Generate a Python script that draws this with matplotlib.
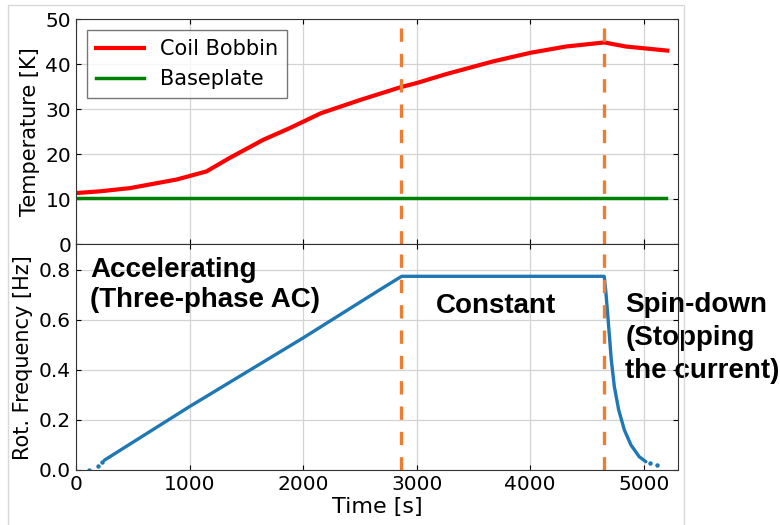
import matplotlib.pyplot as plt
import numpy as np
from matplotlib.patches import Rectangle

# temperature data (time [s], temperature [K])
coil_t = [0, 215, 475, 885, 1149, 1354, 1648, 1882, 2156, 2509, 2862, 3000, 3263, 3673, 4000, 4316, 4652, 4842, 5207]
coil_T = [11.4, 11.8, 12.5, 14.4, 16.2, 19.2, 23.2, 25.8, 29.1, 32.1, 34.9, 35.8, 37.8, 40.6, 42.5, 43.9, 44.8, 43.9, 43.0]
base_t = [0, 5200]
base_T = [10.3, 10.3]

# rotation frequency (dense band) and sparse dots
freq_t = [250, 1000, 2000, 2678, 2868, 4652, 4667, 4691, 4714, 4741, 4779, 4829, 4887, 4960, 5019]
freq_f = [0.039, 0.253, 0.527, 0.720, 0.773, 0.773, 0.707, 0.573, 0.440, 0.333, 0.240, 0.160, 0.100, 0.053, 0.033]
dots_t = [118, 191, 230, 5058, 5121]
dots_f = [0.0, 0.015, 0.030, 0.027, 0.020]

phase_edges = [2865, 4652]

fig = plt.figure(figsize=(7.8, 5.25), dpi=100)
gs = fig.add_gridspec(2, 1, left=0.0974, right=0.869, top=0.9638, bottom=0.1048, hspace=0)
ax1 = fig.add_subplot(gs[0])
ax2 = fig.add_subplot(gs[1], sharex=ax1)

fig.add_artist(Rectangle((8 / 780, -0.1), 676 / 780, 1.1 - 5 / 525, transform=fig.transFigure,
                         fill=False, edgecolor='#d9d9d9', lw=1))

ax1.plot(coil_t, coil_T, color='red', lw=3, label='Coil Bobbin')
ax1.plot(base_t, base_T, color='green', lw=2.5, label='Baseplate')
ax1.set_ylim(0, 50)
ax1.set_ylabel('Temperature [K]', fontsize=15)
leg = ax1.legend(loc='upper left', fontsize=15, fancybox=False, edgecolor='#555555',
                 handlelength=2.3, borderaxespad=0.55)
leg.get_frame().set_linewidth(1.0)

ax2.plot(freq_t, freq_f, color='#1f77b4', lw=2.4, solid_capstyle='round')
ax2.plot(dots_t, dots_f, 'o', color='#1f77b4', ms=2.2)
ax2.set_ylim(0, 0.9)
ax2.set_yticks([0.0, 0.2, 0.4, 0.6, 0.8])
ax2.set_xlim(0, 5300)
ax2.set_xlabel('Time [s]', fontsize=16, labelpad=2)
ax2.set_ylabel('Rot. Frequency [Hz]', fontsize=15)

for ax in (ax1, ax2):
    for x in phase_edges:
        ax.axvline(x, color='#ED7D31', lw=2.4, dashes=[4, 3.6])
    ax.grid(True, color='#d3d3d3', lw=0.9)
    ax.tick_params(direction='in', top=True, right=True, labelsize=14.5)
    for s in ax.spines.values():
        s.set_color('#333333')
plt.setp(ax1.get_xticklabels(), visible=False)

txt = dict(fontsize=20, fontweight='bold', family=['Liberation Sans', 'DejaVu Sans'],
           va='top', ha='left')
ax2.text(123, 0.85, 'Accelerating\n(Three-phase AC)', linespacing=1.2, **txt)
ax2.text(3166, 0.705, 'Constant', **txt)
ax2.text(4837, 0.71, 'Spin-down\n(Stopping\nthe current)', linespacing=1.35, clip_on=False, **txt)

plt.savefig('out.png', dpi=100)
